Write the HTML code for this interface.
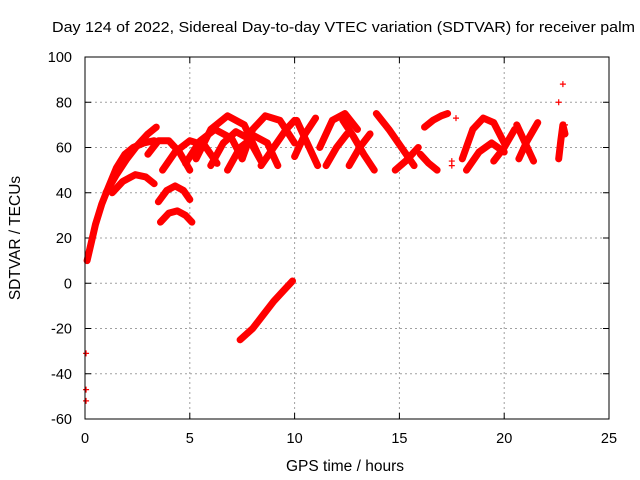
<!DOCTYPE html>
<html><head><meta charset="utf-8"><style>
html,body{margin:0;padding:0;background:#fff}
svg{display:block;font-family:"Liberation Sans",sans-serif}
</style></head><body>
<svg id="chart" width="640" height="480" viewBox="0 0 640 480">
<text x="52" y="32" font-size="15" textLength="583" lengthAdjust="spacingAndGlyphs">Day 124 of 2022, Sidereal Day-to-day VTEC variation (SDTVAR) for receiver palm</text>
<text x="0" y="0" transform="translate(20,238) rotate(-90)" text-anchor="middle" font-size="15.5">SDTVAR / TECUs</text>
<text x="345" y="471" text-anchor="middle" font-size="15.5">GPS time / hours</text>
<g id="grid"></g>
<g id="marks"></g>
<rect x="85" y="57" width="524" height="362" fill="none" stroke="#000" stroke-width="1"/>
</svg>
<script>
const xTicks = [0, 5, 10, 15, 20, 25];
const yTicks = [-60, -40, -20, 0, 20, 40, 60, 80, 100];
const arcT = [
 [0.1,0.3,0.5,0.8,1.1,1.5,1.9,2.3,2.8,3.3],
 [1.0,1.5,2.0,2.5,3.0,3.4],
 [1.3,1.8,2.4,2.9,3.3],
 [3.5,3.9,4.3,4.7,5.0],
 [3.6,4.0,4.4,4.8,5.1],
 [3.0,3.5,4.0,4.5,5.0],
 [3.7,4.3,5.0,5.7,6.3],
 [5.3,6.0,6.8,7.6,8.3],
 [4.8,5.5,6.2,7.0,7.5],
 [6.0,6.6,7.2,7.8,8.4],
 [7.5,8.0,8.6,9.3,10.0],
 [6.8,7.4,8.1,8.7,9.2],
 [8.4,9.0,9.6,10.0],
 [7.4,8.0,8.5,9.0,9.5,9.9],
 [10.0,10.5,11.0],
 [10.1,10.6,11.1],
 [11.2,11.8,12.4,13.0],
 [11.5,12.0,12.5],
 [12.3,12.8,13.3,13.8],
 [12.6,13.1,13.6],
 [13.9,14.5,15.1,15.7],
 [14.8,15.3,15.9],
 [16.2,16.6,17.0,17.3],
 [16.0,16.4,16.8],
 [18.0,18.5,19.0,19.5,20.0],
 [18.2,18.8,19.4,20.0],
 [19.5,20.0,20.5],
 [20.6,21.0,21.4],
 [20.7,21.1,21.6],
 [22.6,22.7,22.8,22.9]
];
const arcV = [
 [10,18,26,35,42,51,57,60,62,63],
 [40,48,55,61,66,69],
 [40,45,48,47,44],
 [36,41,43,41,37],
 [27,31,32,30,27],
 [57,63,63,58,50],
 [50,58,63,61,53],
 [55,68,74,70,56],
 [53,63,68,64,55],
 [52,62,67,64,54],
 [55,68,74,72,62],
 [50,60,65,62,52],
 [52,60,68,72],
 [-25,-20,-14,-8,-3,1],
 [56,66,73],
 [72,62,52],
 [60,72,75,68],
 [52,60,66],
 [72,65,57,50],
 [52,60,66],
 [75,68,60,52],
 [50,54,60],
 [69,72,74,75],
 [57,53,50],
 [55,68,73,71,62],
 [50,58,62,58],
 [54,60,68],
 [70,62,54],
 [55,63,71],
 [55,63,70,66]
];
const isoT = [0.05,0.05,0.05,17.5,17.5,17.7,22.8,22.6,22.9];
const isoV = [-31,-47,-52,54,52,73,88,80,70];

const X0=85, X1=609, Y0=419, Y1=57;
function sx(t){return X0+(t-0)/(25-0)*(X1-X0);}
function sy(v){return Y0-(v-(-60))/(100-(-60))*(Y0-Y1);}
const NS="http://www.w3.org/2000/svg";
const grid=document.getElementById('grid');
const marks=document.getElementById('marks');
function mk(tag,attrs,parent){const e=document.createElementNS(NS,tag);for(const k in attrs)e.setAttribute(k,attrs[k]);parent.appendChild(e);return e;}

xTicks.forEach(t=>{
  const x=sx(t);
  if(t>0&&t<25){
    const g=mk('line',{x1:x,y1:Y0,x2:x,y2:Y1,stroke:'#a0a0a0','stroke-dasharray':'2,3'},grid);
    
    
  }
  const tk=mk('line',{x1:x,y1:Y0,x2:x,y2:Y0-6,stroke:'#000'},grid);
  
  
  const tk2=mk('line',{x1:x,y1:Y1,x2:x,y2:Y1+6,stroke:'#000'},grid);
  
  
  const lb=mk('text',{x:x,y:443,'text-anchor':'middle','font-size':'14.5'},grid);
  lb.textContent=t;
  
  
});
yTicks.forEach(v=>{
  const y=sy(v);
  if(v>-60&&v<100){
    const g=mk('line',{x1:X0,y1:y,x2:X1,y2:y,stroke:'#a0a0a0','stroke-dasharray':'2,3'},grid);
    
    
  }
  const tk=mk('line',{x1:X0,y1:y,x2:X0+6,y2:y,stroke:'#000'},grid);
  
  
  const tk2=mk('line',{x1:X1,y1:y,x2:X1-6,y2:y,stroke:'#000'},grid);
  
  
  const lb=mk('text',{x:72,y:y+5,'text-anchor':'end','font-size':'14.5'},grid);
  lb.textContent=v;
  
  
});

function plus(x,y){
  const p=mk('path',{d:`M${x-3},${y}h6M${x},${y-3}v6`,stroke:'#f00','stroke-width':'1.2',fill:'none'},marks);
  
  
}
arcT.forEach((ts,i)=>{
  const vs=arcV[i];
  const pts=ts.map((t,j)=>sx(t)+','+sy(vs[j])).join(' ');
  const pl=mk('polyline',{points:pts,fill:'none',stroke:'#f00','stroke-width':'7','stroke-linejoin':'round','stroke-linecap':'round'},marks);
  
  
  ts.forEach((t,j)=>plus(sx(t),sy(vs[j])));
});
isoT.forEach((t,i)=>plus(sx(t),sy(isoV[i])));
</script>
</body></html>
